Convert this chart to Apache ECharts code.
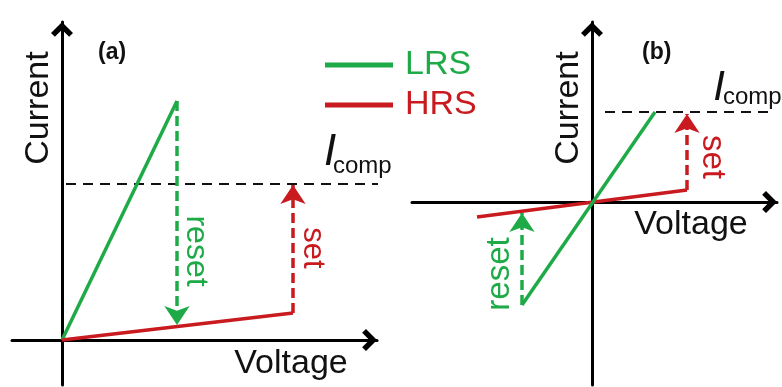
<!DOCTYPE html>
<html>
<head>
<meta charset="utf-8">
<script src="https://cdn.jsdelivr.net/npm/echarts@6/dist/echarts.min.js"></script>
<style>
  html, body { margin: 0; padding: 0; background: #fff; }
  #chart { width: 782px; height: 387px; }
</style>
</head>
<body>
<div id="chart"></div>
<script>
// Schematic I-V curves of a resistive switching cell: (a) unipolar, (b) bipolar.
// Arbitrary units; origin of each panel at (0, 0).

// Panel (a) - unipolar switching
const lrsA = [[0, 0], [2.3, 4.78]];
const hrsA = [[0, 0], [4.62, 0.54]];
const resetA = [[2.3, 4.78], [2.3, 0.3]];
const setA = [[4.62, 0.54], [4.62, 3.1]];
const icompA = 3.12;
const icompSpanA = [0.08, 6.36];

// Panel (b) - bipolar switching
const lrsB = [[-1.4, -2.06], [1.26, 1.8]];
const hrsB = [[-2.3, -0.3], [1.9, 0.24]];
const resetB = [[-1.4, -2.06], [-1.4, -0.22]];
const setB = [[1.9, 0.24], [1.9, 1.76]];
const icompB = 1.8;
const icompSpanB = [0.26, 3.56];

// Axis ranges
const rangeAx = [-1, 6.3], rangeAy = [-0.9, 6.36];
const rangeBx = [-3.6, 3.7], rangeBy = [-3.66, 3.6];

const GREEN = '#1faa48';
const RED = '#c81a1f';
const FONT = '"Liberation Sans", Arial, Helvetica, sans-serif';

// Open chevron whose tip sits at the centre of its bounding box (axis ends)
const AXIS_HEAD = 'path://M10,-3.5 M10,10 L20,20 L16.5,23.5 L10,17 L3.5,23.5 L0,20 Z';

function axis(gridIndex, range) {
  return {
    type: 'value', gridIndex, min: range[0], max: range[1],
    axisLine: {
      show: true, onZero: true,
      lineStyle: { color: '#000', width: 3 },
      symbol: ['none', AXIS_HEAD], symbolSize: [22, 30]
    },
    axisTick: { show: false }, axisLabel: { show: false }, splitLine: { show: false }
  };
}

function curve(name, data, color, gi) {
  return {
    type: 'line', name, data, xAxisIndex: gi, yAxisIndex: gi,
    symbol: 'none', lineStyle: { color, width: 3.5 }, itemStyle: { color }, z: 3
  };
}

function arrow(coords, color, gi) {
  return {
    type: 'lines', coordinateSystem: 'cartesian2d', xAxisIndex: gi, yAxisIndex: gi,
    data: [{ coords }],
    lineStyle: { color, width: 3.5, type: [10, 5], opacity: 1 },
    symbol: ['none', 'arrow'], symbolSize: 19, z: 2
  };
}

function compliance(level, span, gi) {
  return {
    type: 'line', data: [[span[0], level], [span[1], level]],
    xAxisIndex: gi, yAxisIndex: gi, symbol: 'none', clip: false,
    lineStyle: { color: '#111', width: 2, type: [10, 7] }, z: 1
  };
}

function txt(text, x, y, size, opts = {}) {
  return {
    type: 'text', x, y, rotation: opts.rot || 0, z: 10,
    style: {
      text, fill: opts.color || '#111',
      font: (opts.style || 'normal') + ' ' + (opts.weight || 'normal') + ' ' + size + 'px ' + FONT,
      align: opts.align || 'center', verticalAlign: 'middle'
    }
  };
}

const chart = echarts.init(document.getElementById('chart'), null, { renderer: 'canvas' });

chart.setOption({
  animation: false,
  backgroundColor: '#fff',
  grid: [
    { left: 12, top: 22, width: 365, height: 363 },
    { left: 412, top: 22, width: 365, height: 363 }
  ],
  xAxis: [axis(0, rangeAx), axis(1, rangeBx)],
  yAxis: [axis(0, rangeAy), axis(1, rangeBy)],
  legend: {
    orient: 'vertical', left: 320, top: 43,
    itemWidth: 68, itemHeight: 5, itemGap: 6, icon: 'rect', selectedMode: false,
    textStyle: { fontSize: 34, fontFamily: FONT, padding: [0, 0, 0, 7] },
    data: [
      { name: 'LRS', textStyle: { color: GREEN } },
      { name: 'HRS', textStyle: { color: RED } }
    ]
  },
  series: [
    compliance(icompA, icompSpanA, 0),
    curve('LRS', lrsA, GREEN, 0),
    curve('HRS', hrsA, RED, 0),
    arrow(resetA, GREEN, 0),
    arrow(setA, RED, 0),

    compliance(icompB, icompSpanB, 1),
    curve('HRS', hrsB, RED, 1),
    curve('LRS', lrsB, GREEN, 1),
    arrow(resetB, GREEN, 1),
    arrow(setB, RED, 1)
  ],
  graphic: [
    txt('(a)', 98, 53, 23, { weight: 'bold', align: 'left' }),
    txt('Current', 39, 108, 34, { rot: Math.PI / 2 }),
    txt('Voltage', 291, 364, 34),
    txt('I', 330, 153, 44, { style: 'italic' }),
    txt('comp', 333, 166, 24, { align: 'left' }),
    txt('reset', 196, 251, 32, { rot: -Math.PI / 2, color: GREEN }),
    txt('set', 313, 248, 31, { rot: -Math.PI / 2, color: RED }),

    txt('(b)', 642, 53, 23, { weight: 'bold', align: 'left' }),
    txt('Current', 569, 108, 34, { rot: Math.PI / 2 }),
    txt('Voltage', 691, 225, 34),
    txt('I', 719, 88, 42, { style: 'italic' }),
    txt('comp', 723, 97, 24, { align: 'left' }),
    txt('reset', 500, 274, 33, { rot: Math.PI / 2, color: GREEN }),
    txt('set', 712, 157, 33, { rot: -Math.PI / 2, color: RED })
  ]
});
</script>
</body>
</html>
